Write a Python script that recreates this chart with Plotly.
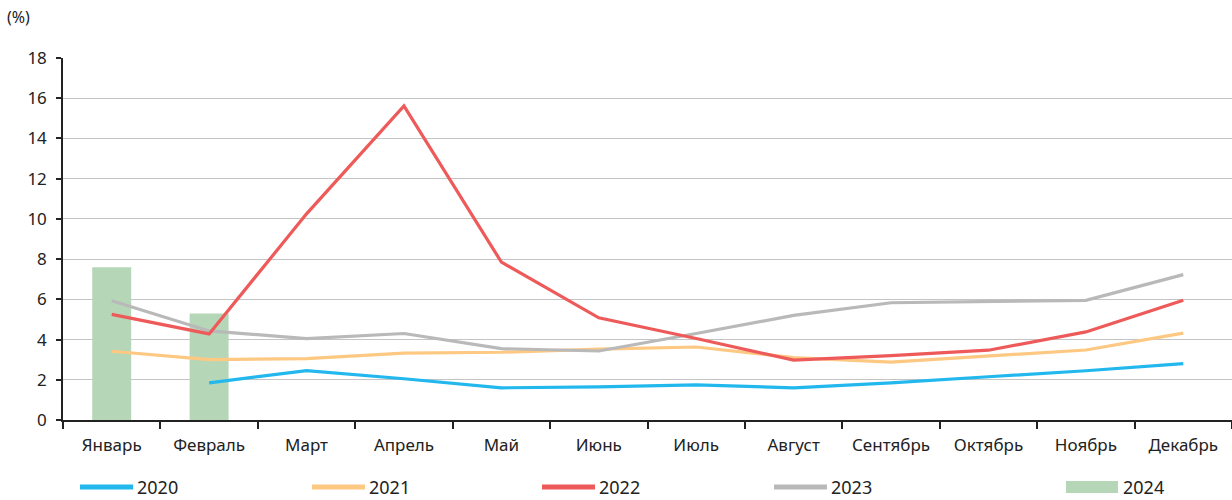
import plotly.graph_objects as go

months = ["Январь", "Февраль", "Март", "Апрель", "Май", "Июнь",
          "Июль", "Август", "Сентябрь", "Октябрь", "Ноябрь", "Декабрь"]

y2020 = [None, 1.85, 2.45, 2.05, 1.6, 1.65, 1.75, 1.6, 1.85, 2.15, 2.45, 2.8]
y2021 = [3.42, 3.0, 3.05, 3.33, 3.37, 3.52, 3.63, 3.1, 2.88, 3.17, 3.48, 4.32]
y2022 = [5.25, 4.28, 10.25, 15.62, 7.85, 5.08, 4.05, 2.98, 3.2, 3.47, 4.38, 5.95]
y2023 = [5.93, 4.43, 4.05, 4.3, 3.55, 3.43, 4.3, 5.2, 5.83, 5.9, 5.95, 7.23]
y2024 = [7.6, 5.3]

C2020 = "#22b8ee"
C2021 = "#fdc882"
C2022 = "#ee5a5a"
C2023 = "#b9b9b9"
C2024 = "#b6d7b7"

FONT = "Noto Sans"
TXT = "#222222"

fig = go.Figure()

fig.add_trace(go.Bar(x=months[:2], y=y2024, name="2024", marker_color=C2024,
                     marker_line_width=0, width=0.4, showlegend=False))

for name, ys, col in [("2020", y2020, C2020), ("2021", y2021, C2021),
                      ("2023", y2023, C2023), ("2022", y2022, C2022)]:
    fig.add_trace(go.Scatter(x=months, y=ys, name=name, mode="lines",
                             line=dict(color=col, width=3.2), showlegend=False,
                             connectgaps=False))

# Manual legend below the plot area (paper coordinates)
L, W = 63, 1169
T, H = 58, 362


def px_x(p):
    return (p - L) / W


def px_y(p):
    return (T + H - p) / H


legend_items = [("2020", C2020, 80, "line"), ("2021", C2021, 312, "line"),
                ("2022", C2022, 542, "line"), ("2023", C2023, 774, "line"),
                ("2024", C2024, 1066, "box")]
ly = 487
shapes = []
annotations = []
for label, col, x0, kind in legend_items:
    if kind == "line":
        shapes.append(dict(type="line", xref="paper", yref="paper",
                           x0=px_x(x0), x1=px_x(x0 + 53), y0=px_y(ly), y1=px_y(ly),
                           line=dict(color=col, width=5)))
    else:
        shapes.append(dict(type="rect", xref="paper", yref="paper",
                           x0=px_x(x0), x1=px_x(x0 + 52), y0=px_y(ly + 6), y1=px_y(ly - 6),
                           fillcolor=col, line=dict(width=0)))
    annotations.append(dict(text=label, xref="paper", yref="paper",
                            x=px_x(x0 + 55), y=px_y(ly), xanchor="left", yanchor="middle",
                            showarrow=False, font=dict(family=FONT, size=18, color=TXT)))

annotations.append(dict(text="(%)", xref="paper", yref="paper", x=px_x(5), y=px_y(17),
                        xanchor="left", yanchor="middle", showarrow=False,
                        font=dict(family=FONT, size=16, color=TXT)))

fig.update_layout(
    width=1232, height=500,
    margin=dict(l=L, r=0, t=T, b=500 - T - H),
    plot_bgcolor="white", paper_bgcolor="white",
    font=dict(family=FONT, size=16, color=TXT),
    shapes=shapes, annotations=annotations,
)
fig.update_xaxes(
    type="category", categoryorder="array", categoryarray=months,
    range=[-0.5, 11.5], showline=True, linecolor=TXT, linewidth=1.5,
    ticks="outside", tickson="boundaries", ticklen=7, tickcolor=TXT,
    tickwidth=1.5, showgrid=False, ticklabelstandoff=9,
    tickfont=dict(family=FONT, size=17, color=TXT),
)
fig.update_yaxes(
    range=[0, 18], dtick=2, showline=True, linecolor=TXT, linewidth=1.5,
    ticks="outside", ticklen=5, tickcolor=TXT, tickwidth=1.5,
    showgrid=True, gridcolor="#c4c4c4", gridwidth=1.2, zeroline=False,
    ticklabelstandoff=6,
    tickfont=dict(family=FONT, size=17, color=TXT),
)

fig.write_html("out.html")
